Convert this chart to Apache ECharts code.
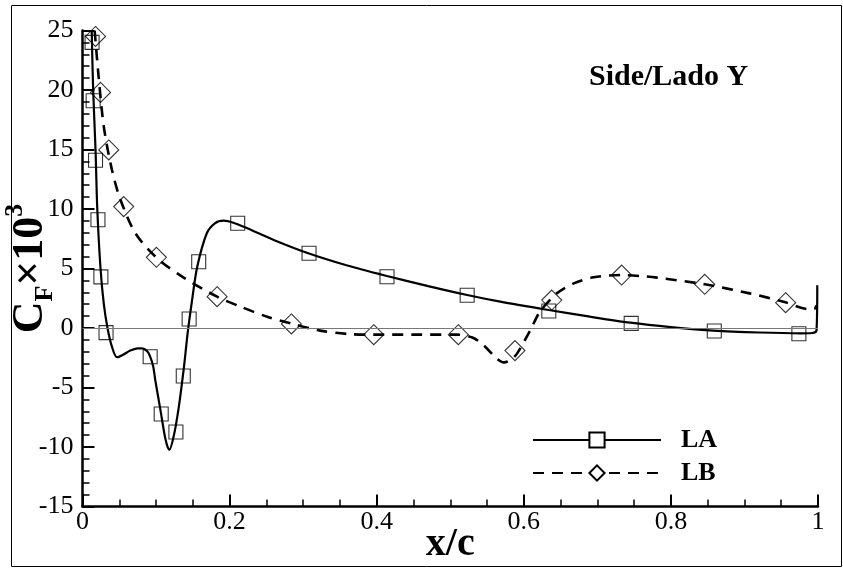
<!DOCTYPE html>
<html>
<head>
<meta charset="utf-8">
<title>Side/Lado Y</title>
<script src="https://cdn.jsdelivr.net/npm/echarts@6/dist/echarts.min.js"></script>
<style>
  html, body { margin: 0; padding: 0; background: #fff; }
  #main { width: 843px; height: 568px; }
</style>
</head>
<body>
<div id="main"></div>
<script>
// curve LA (solid)
var laX = [0.0125, 0.0145, 0.0177, 0.0201, 0.0245, 0.029, 0.034, 0.040, 0.047, 0.055, 0.065, 0.075, 0.081,
  0.088, 0.092, 0.096, 0.099, 0.106, 0.113, 0.118, 0.124, 0.131, 0.138, 0.143, 0.149, 0.156, 0.169, 0.180,
  0.192, 0.205, 0.224, 0.260, 0.307, 0.360, 0.414, 0.470, 0.523, 0.568, 0.634, 0.690, 0.745, 0.800, 0.858,
  0.920, 0.976, 0.992, 0.998, 0.999];
var laY = [25.0, 20.0, 15.0, 10.0, 5.0, 2.0, 0.0, -1.57, -2.46, -2.25, -1.9, -1.72, -1.71,
  -1.95, -2.4, -3.2, -4.4, -6.9, -9.4, -10.25, -9.1, -6.6, -3.25, -0.4, 2.35, 5.15, 7.96, 8.8,
  9.02, 8.85, 8.38, 7.4, 6.28, 5.25, 4.37, 3.52, 2.77, 2.21, 1.51, 0.95, 0.45, 0.08, -0.22,
  -0.38, -0.45, -0.42, -0.2, 3.6];

// curve LB (dashed)
var lbX = [0.0165, 0.0221, 0.029, 0.040, 0.0515, 0.072, 0.1015, 0.137, 0.183, 0.215, 0.251, 0.283, 0.323,
  0.360, 0.396, 0.450, 0.509, 0.530, 0.545, 0.563, 0.573, 0.582, 0.591, 0.609, 0.622, 0.645, 0.668,
  0.695, 0.733, 0.758, 0.781, 0.846, 0.907, 0.953, 0.989, 0.995, 0.998];
var lbY = [25.0, 21.0, 16.9, 13.3, 10.8, 7.96, 5.86, 4.26, 2.63, 1.79, 0.95, 0.39, -0.22,
  -0.5, -0.56, -0.56, -0.56, -0.8, -1.43, -2.55, -2.89, -2.7, -2.13, -0.17, 1.37, 2.91, 3.75,
  4.26, 4.45, 4.37, 4.23, 3.67, 2.91, 2.21, 1.57, 1.6, 1.9];

// symbols drawn along the curves
var laMarkX = [0.013, 0.0145, 0.0177, 0.021, 0.025, 0.032, 0.092, 0.107, 0.127, 0.137, 0.145, 0.158,
  0.211, 0.308, 0.414, 0.523, 0.634, 0.746, 0.859, 0.974];
var laMarkY = [24.0, 19.1, 14.1, 9.1, 4.3, -0.39, -2.41, -7.23, -8.74, -4.03, 0.76, 5.57,
  8.8, 6.28, 4.31, 2.75, 1.43, 0.39, -0.25, -0.48];
var lbMarkX = [0.0177, 0.0245, 0.0357, 0.056, 0.1005, 0.183, 0.284, 0.396, 0.511, 0.588, 0.638,
  0.733, 0.846, 0.956];
var lbMarkY = [24.5, 19.8, 14.96, 10.2, 5.94, 2.63, 0.34, -0.56, -0.56, -1.9, 2.35,
  4.45, 3.67, 2.13];

var seriesNames = ['LA', 'LB'];

function zip(xs, ys) {
  return xs.map(function (x, i) { return [x, ys[i]]; });
}

var font = '"Liberation Serif", "Times New Roman", serif';
var chart = echarts.init(document.getElementById('main'), null, { renderer: 'canvas' });

var option = {
  backgroundColor: '#fff',
  animation: false,
  title: {
    text: 'Side/Lado Y',
    left: 584,
    top: 57,
    textStyle: { fontFamily: font, fontSize: 30, fontWeight: 'bold', color: '#000' }
  },
  legend: {
    data: seriesNames,
    orient: 'vertical',
    left: 532,
    top: 427,
    padding: 0,
    itemWidth: 128,
    itemHeight: 19,
    itemGap: 7,
    textStyle: {
      fontFamily: font, fontSize: 26, fontWeight: 'bold', color: '#000',
      padding: [0, 0, 0, 15]
    }
  },
  grid: { left: 82.5, right: 25, top: 30.5, bottom: 61.5, containLabel: false, outerBoundsMode: 'none' },
  xAxis: {
    type: 'value',
    min: 0,
    max: 1,
    interval: 0.2,
    name: 'x/c',
    nameLocation: 'middle',
    nameGap: 18,
    nameMoveOverlap: false,
    nameTextStyle: { fontFamily: font, fontSize: 40, fontWeight: 'bold', color: '#000' },
    axisLine: { show: true, onZero: false, lineStyle: { color: '#000', width: 2.5 } },
    axisTick: { inside: true, length: 12, lineStyle: { color: '#000', width: 2 } },
    minorTick: { show: true, splitNumber: 4, length: 7, lineStyle: { color: '#000', width: 1.5 } },
    splitLine: { show: false },
    axisLabel: {
      margin: 3, fontFamily: font, fontSize: 26, color: '#000',
      formatter: function (v) { return String(Math.round(v * 10) / 10); }
    }
  },
  yAxis: {
    type: 'value',
    min: -15,
    max: 25,
    interval: 5,
    name: '{a|C}{b|F}{a|×10}{c|3}',
    nameLocation: 'middle',
    nameRotate: 90,
    nameGap: 24,
    nameMoveOverlap: false,
    nameTextStyle: {
      rich: {
        a: { fontFamily: font, fontSize: 44, fontWeight: 'bold', color: '#000', lineHeight: 56, verticalAlign: 'middle' },
        b: { fontFamily: font, fontSize: 26, fontWeight: 'bold', color: '#000', lineHeight: 26, verticalAlign: 'bottom' },
        c: { fontFamily: font, fontSize: 26, fontWeight: 'bold', color: '#000', lineHeight: 26, verticalAlign: 'top' }
      }
    },
    axisLine: { show: true, onZero: false, lineStyle: { color: '#000', width: 2.5 } },
    axisTick: { inside: true, length: 12, lineStyle: { color: '#000', width: 2 } },
    minorTick: { show: true, splitNumber: 5, length: 7, lineStyle: { color: '#000', width: 1.5 } },
    splitLine: { show: false },
    axisLabel: { margin: 9, fontFamily: font, fontSize: 26, color: '#000' }
  },
  graphic: [{
    type: 'rect',
    shape: { x: 11.5, y: 5.5, width: 830, height: 561 },
    style: { fill: 'none', stroke: '#000', lineWidth: 1 },
    silent: true,
    z: -1
  }],
  series: [{
    name: 'LA',
    type: 'line',
    data: zip(laX, laY),
    smooth: 0.3,
    showSymbol: false,
    symbol: 'rect',
    itemStyle: { color: '#fff', borderColor: '#000', borderWidth: 1 },
    lineStyle: { color: '#000', width: 2.2, type: 'solid' },
    markLine: {
      silent: true,
      symbol: 'none',
      label: { show: false },
      lineStyle: { color: '#777', width: 1, type: 'solid' },
      data: [{ yAxis: 0 }]
    },
    z: 3
  }, {
    name: 'LB',
    type: 'line',
    data: zip(lbX, lbY),
    smooth: 0.3,
    showSymbol: false,
    symbol: 'diamond',
    itemStyle: { color: '#fff', borderColor: '#000', borderWidth: 1 },
    lineStyle: { color: '#000', width: 2.6, type: [11, 8] },
    z: 3
  }, {
    type: 'scatter',
    data: zip(laMarkX, laMarkY),
    symbol: 'rect',
    symbolSize: 14,
    itemStyle: { color: 'rgba(0,0,0,0)', borderColor: '#000', borderWidth: 1.1 },
    z: 4
  }, {
    type: 'scatter',
    data: zip(lbMarkX, lbMarkY),
    symbol: 'diamond',
    symbolSize: 20,
    itemStyle: { color: 'rgba(0,0,0,0)', borderColor: '#000', borderWidth: 1.1 },
    z: 4
  }]
};

chart.setOption(option);
</script>
</body>
</html>
